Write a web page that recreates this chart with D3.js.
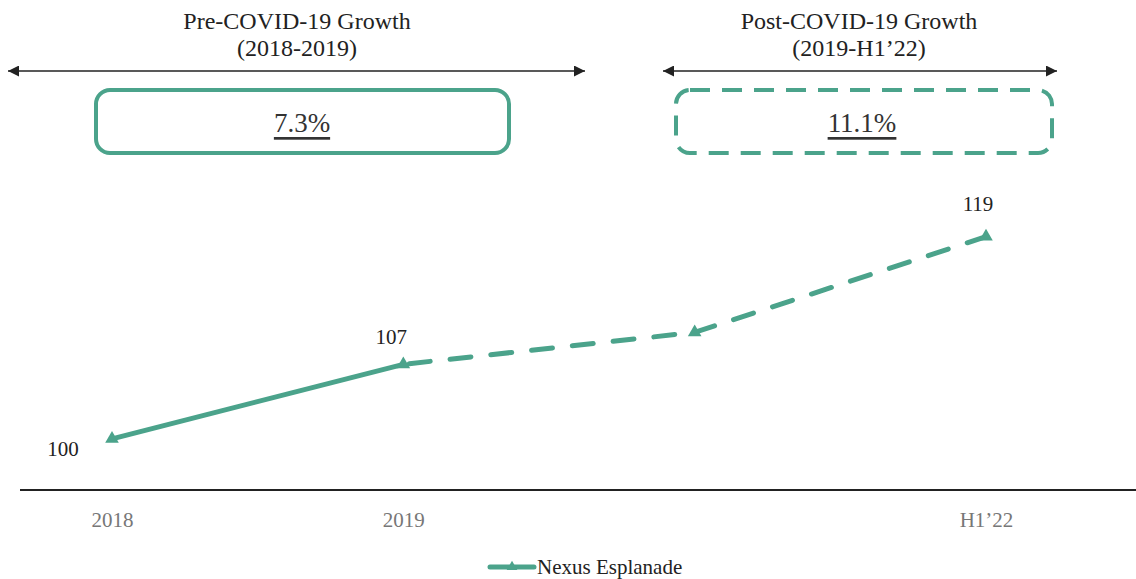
<!DOCTYPE html>
<html>
<head>
<meta charset="utf-8">
<script src="https://cdn.jsdelivr.net/npm/d3@7"></script>
<style>
  html, body { margin: 0; padding: 0; background: #fff; }
  svg { display: block; font-family: "Liberation Serif", "Times New Roman", serif; }
</style>
</head>
<body>
<svg id="chart" width="1136" height="579"></svg>
<script>
// ---- data ----
const categories = ["2018", "2019", "2021", "H1'22"];
const tickLabels = ["2018", "2019", "", "H1\u201922"];
const values = [100, 107, 110, 119];
const valueLabels = ["100", "107", "", "119"];
const seriesName = "Nexus Esplanade";
const periodTitles = ["Pre-COVID-19 Growth", "Post-COVID-19 Growth"];
const periodRanges = ["(2018-2019)", "(2019-H1\u201922)"];
const periodGrowth = ["7.3%", "11.1%"];

const teal = "#4ba38b";
const svg = d3.select("#chart");

const x = d3.scalePoint().domain(categories).range([112, 986]);
const y = d3.scaleLinear().domain([95, 120]).range([492, 226]);

// baseline axis
const xAxis = d3.axisBottom(x).tickSize(0).tickFormat((d, i) => tickLabels[i]);
const gx = svg.append("g").attr("transform", "translate(0,490)").call(xAxis);
gx.select(".domain").attr("d", "M20,0H1136").attr("stroke", "#222").attr("stroke-width", 2);
gx.selectAll(".tick text")
  .attr("dy", 0).attr("y", 37)
  .attr("font-family", "Liberation Serif").attr("font-size", 21).attr("fill", "#777");

// line: solid for first segment, dashed after
const pts = categories.map((c, i) => [x(c), y(values[i])]);
const line = d3.line();
svg.append("path").attr("d", line(pts.slice(0, 2)))
  .attr("fill", "none").attr("stroke", teal).attr("stroke-width", 5);
svg.append("path").attr("d", line(pts.slice(1)))
  .attr("fill", "none").attr("stroke", teal).attr("stroke-width", 5)
  .attr("stroke-dasharray", "21,20").attr("stroke-linecap", "round")
  .attr("stroke-dashoffset", -6);

// markers
svg.selectAll(".mk").data(pts).join("path").attr("class", "mk")
  .attr("transform", d => `translate(${d[0]},${d[1]})`)
  .attr("d", d3.symbol(d3.symbolTriangle, 80))
  .attr("fill", teal);

// value labels
const labelOffsets = [[-49, 10], [-12, -27], [0, 0], [-8, -33]];
svg.selectAll(".vl").data(pts).join("text").attr("class", "vl")
  .attr("x", (d, i) => d[0] + labelOffsets[i][0])
  .attr("y", (d, i) => d[1] + labelOffsets[i][1])
  .attr("text-anchor", "middle").attr("dominant-baseline", "central")
  .attr("font-size", 21).attr("fill", "#222")
  .text((d, i) => valueLabels[i]);

// arrowheads
const defs = svg.append("defs");
["start", "end"].forEach(k => {
  defs.append("marker").attr("id", "ah-" + k)
    .attr("viewBox", "0 0 10 10").attr("refX", k === "end" ? 10 : 0).attr("refY", 5)
    .attr("markerWidth", 13).attr("markerHeight", 11).attr("markerUnits", "userSpaceOnUse")
    .attr("orient", "auto")
    .append("path")
    .attr("d", k === "end" ? "M0,0L10,5L0,10Z" : "M10,0L0,5L10,10Z")
    .attr("fill", "#222");
});

// period annotations
const periods = [
  { cx: 297, a0: 8, a1: 585, bx0: 96, bx1: 509, dashed: false, tx: 302 },
  { cx: 859, a0: 663, a1: 1057, bx0: 676, bx1: 1052, dashed: true, tx: 862 }
];
periods.forEach((p, i) => {
  const g = svg.append("g");
  g.append("text").attr("x", p.cx).attr("y", 21).attr("text-anchor", "middle")
    .attr("dominant-baseline", "central").attr("font-size", 24).attr("fill", "#222")
    .text(periodTitles[i]);
  g.append("text").attr("x", p.cx).attr("y", 48).attr("text-anchor", "middle")
    .attr("dominant-baseline", "central").attr("font-size", 24).attr("fill", "#222")
    .text(periodRanges[i]);
  g.append("line").attr("x1", p.a0).attr("x2", p.a1).attr("y1", 71).attr("y2", 71)
    .attr("stroke", "#222").attr("stroke-width", 1.5)
    .attr("marker-start", "url(#ah-start)").attr("marker-end", "url(#ah-end)");
  const r = g.append("rect").attr("x", p.bx0).attr("y", 90)
    .attr("width", p.bx1 - p.bx0).attr("height", 63).attr("rx", 14)
    .attr("fill", "none").attr("stroke", teal).attr("stroke-width", 4);
  if (p.dashed) r.attr("stroke-dasharray", "20,12");
  g.append("text").attr("x", p.tx).attr("y", 123).attr("text-anchor", "middle")
    .attr("dominant-baseline", "central").attr("font-size", 27).attr("fill", "#333")
    .style("text-decoration", "underline")
    .text(periodGrowth[i]);
});

// legend
const lg = svg.append("g").attr("transform", "translate(490,567)");
lg.append("line").attr("x1", 0).attr("x2", 44).attr("y1", 0).attr("y2", 0)
  .attr("stroke", teal).attr("stroke-width", 5).attr("stroke-linecap", "round");
lg.append("path").attr("transform", "translate(22,0)")
  .attr("d", d3.symbol(d3.symbolTriangle, 50)).attr("fill", teal);
lg.append("text").attr("x", 47).attr("y", 0).attr("dominant-baseline", "central")
  .attr("font-size", 21).attr("fill", "#222").text(seriesName);
</script>
</body>
</html>
